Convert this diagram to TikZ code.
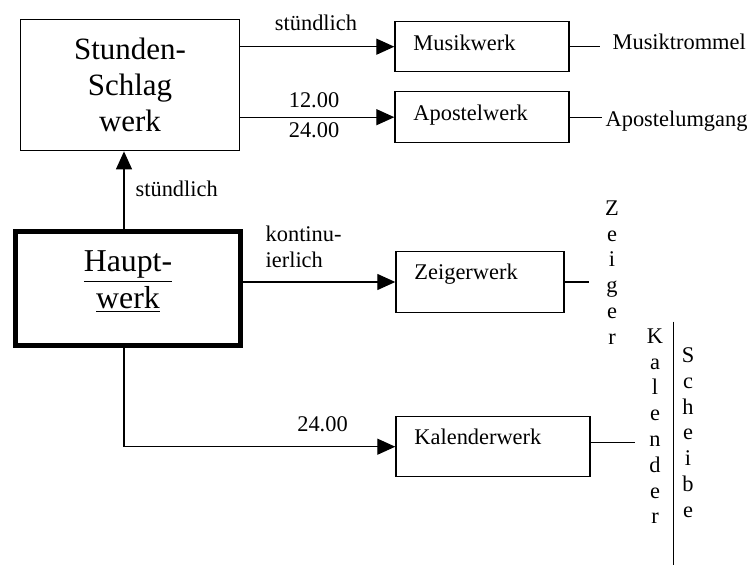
\documentclass[tikz,border=0pt]{standalone}
\usepackage{fontspec}
\setmainfont{Liberation Serif}
\usetikzlibrary{arrows.meta}

\tikzset{
  werk/.style={draw, line width=0.7pt, inner sep=0pt},
  werktext/.style={font=\fontsize{11.2}{13}\selectfont, inner sep=0pt, anchor=base west},
  lbl/.style={font=\fontsize{11.2}{13.3}\selectfont, inner sep=0pt},
  senk/.style={font=\fontsize{11.2}{12.9}\selectfont, inner sep=0pt, align=center, anchor=north},
}

\begin{document}
\begin{tikzpicture}[x=0.5pt, y=-0.5pt, line width=0.65pt,
    >={Triangle[length=9pt,width=8pt]}]
    \useasboundingbox (0,0) rectangle (747,565);

    % Werke links
    \node[werk, minimum width=109.3pt, minimum height=65.7pt, align=center,
          font=\fontsize{15.5}{17.9}\selectfont] (stunden) at (130,85) {Stunden-\\Schlag\\werk};
    \node[werk, line width=2.5pt, minimum width=112.2pt, minimum height=57pt] (haupt) at (128,288.8) {};
    \node[align=center, inner sep=0pt, font=\fontsize{15.9}{18.3}\selectfont] (hauptT) at (128,282)
        {\underline{Haupt-}\\\underline{werk}};

    % Werke rechts
    \node[werk, minimum width=87pt, minimum height=25pt] (musik) at (482,46.7) {};
    \node[werk, minimum width=87pt, minimum height=25.5pt] (apostel) at (482,117.2) {};
    \node[werk, minimum width=84pt, minimum height=30.3pt] (zeiger) at (480,282) {};
    \node[werk, minimum width=97pt, minimum height=30pt] (kalender) at (493,446.7) {};
    \node[werktext] (musikT) at ([shift={(18.5,29.5)}]musik.north west) {Musikwerk};
    \node[werktext] (apostelT) at ([shift={(18.5,29.5)}]apostel.north west) {Apostelwerk};
    \node[werktext] (zeigerT) at ([shift={(18.5,28.5)}]zeiger.north west) {Zeigerwerk};
    \node[werktext] (kalenderT) at ([shift={(18.5,28.5)}]kalender.north west) {Kalenderwerk};

    % Verbindungen
    \draw[->] (stunden.east |- musik.west) -- (musik.west);
    \draw[->] (stunden.east |- apostel.west) -- (apostel.west);
    \draw[->] ([xshift=-2pt]haupt.north) -- ([xshift=-2pt]haupt.north |- stunden.south);
    \draw[->] (haupt.east |- zeiger.west) -- (zeiger.west);
    \draw[->] ([xshift=-2pt]haupt.south) |- (kalender.west);

    \node[lbl] (stdOben) at (316,22.5) {stündlich};
    \node[lbl] (zwoelf) at (314,100) {12.00};
    \node[lbl] (vierundzwanzig) at (314,130) {24.00};
    \node[lbl, anchor=west] (stdUnten) at (135,188.5) {stündlich};
    \node[lbl, align=left, anchor=north west] (kont) at (265,225) {kontinu-\\ierlich};
    \node[lbl] (kal24) at (322.5,424.5) {24.00};

    % Ausgaenge
    \node[werktext] (trommel) at (612,50) {Musiktrommel};
    \node[werktext] (umgang) at (605,127) {Apostelumgang};
    \node[senk] (zeigerS) at (612,200) {Z\\e\\i\\g\\e\\r};
    \node[senk] (kalS) at (655,328) {K\\a\\l\\e\\n\\d\\e\\r};
    \node[senk] (scheibeS) at (688,347) {S\\c\\h\\e\\i\\b\\e};

    \coordinate (trommelEnd) at (600,46.7);
    \coordinate (umgangEnd) at (602,117.2);
    \coordinate (zeigerEnd) at (589,282);
    \coordinate (kalEnd) at (635,442.3);
    \draw (musik.east) -- (trommelEnd);
    \draw (apostel.east) -- (umgangEnd);
    \draw (zeiger.east) -- (zeigerEnd);
    \draw (kalender.east |- kalEnd) -- (kalEnd);

    % Scheibenrand
    \draw (673.3,321.7) -- (673.3,565);
\end{tikzpicture}
\end{document}
